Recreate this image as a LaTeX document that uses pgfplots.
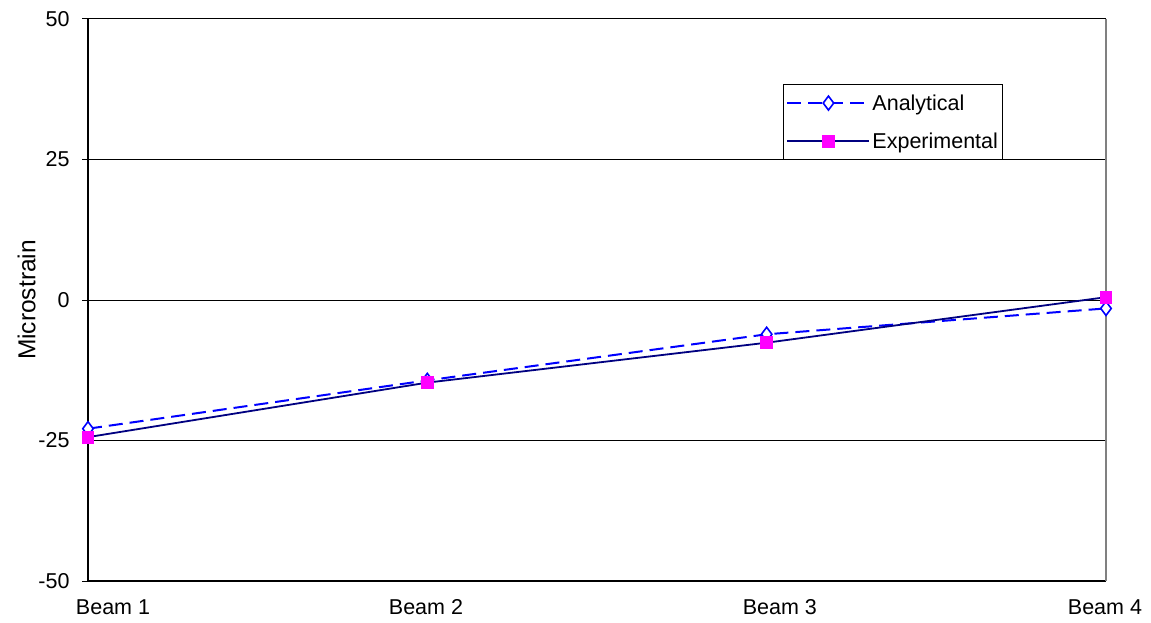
\documentclass[border=0pt]{standalone}
\usepackage{pgfplots}
\pgfplotsset{compat=1.18}
\usepackage{fontspec}
\setmainfont{Liberation Sans}
\definecolor{anblue}{RGB}{0,0,255}
\definecolor{exnavy}{RGB}{0,0,128}
\definecolor{exmag}{RGB}{255,0,255}
\begin{document}
\begin{tikzpicture}[x=1pt,y=1pt]
\path[use as bounding box] (0,0) rectangle (1151,622);
\begin{axis}[
  at={(88pt,41pt)}, anchor=south west,
  width=1018pt, height=562pt, scale only axis,
  xmin=0, xmax=3, ymin=-50, ymax=50,
  xtick={0.0737,0.996,2.039,2.997},
  xticklabels={Beam 1,Beam 2,Beam 3,Beam 4},
  ytick={-50,-25,0,25,50},
  axis x line*=bottom, axis y line*=left,
  axis line style={black, line width=1.2pt, -},
  tick style={black, line width=1pt},
  tick align=outside,
  major tick length=6pt,
  xtick style={draw=none},
  ymajorgrids, grid style={black, line width=1pt},
  tick label style={font=\fontsize{21.5}{25}\selectfont},
  /pgf/number format/assume math mode=true,
  yticklabel style={xshift=-9pt},
  xticklabel style={yshift=-9pt},
  ylabel={Microstrain},
  ylabel style={font=\fontsize{24.5}{28}\selectfont, at={(ticklabel cs:0.5)}, yshift=-4pt},
  clip=false,
  legend style={at={(axis description cs:0.6827,0.8843)}, anchor=north west,
    draw=black, line width=1pt, font=\fontsize{21.5}{25}\selectfont,
    row sep=17pt, inner xsep=3pt, inner ysep=8pt,
    /tikz/every even column/.append style={column sep=1pt}},
  legend cell align=left,
  legend image code/.code={
    \draw[#1, mark=none] (0pt,0pt) -- (82pt,0pt);
    \path[#1, solid] plot coordinates {(41pt,0pt)};
  },
]
\draw[gray, line width=1.2pt] (rel axis cs:1,0) -- (rel axis cs:1,1);
\addplot[anblue, line width=2pt, dash pattern=on 14pt off 7pt,
  mark=diamond*, mark size=7pt, mark options={solid, fill=white, draw=anblue, line width=1.6pt}]
  coordinates {(0,-22.9) (1,-14.3) (2,-6.1) (3,-1.5)};
\addlegendentry{Analytical}
\addplot[exnavy, line width=1.8pt,
  mark=square*, mark size=5.5pt, mark options={fill=exmag, draw=exmag}]
  coordinates {(0,-24.4) (1,-14.7) (2,-7.6) (3,0.5)};
\addlegendentry{Experimental}
\end{axis}
\end{tikzpicture}
\end{document}
